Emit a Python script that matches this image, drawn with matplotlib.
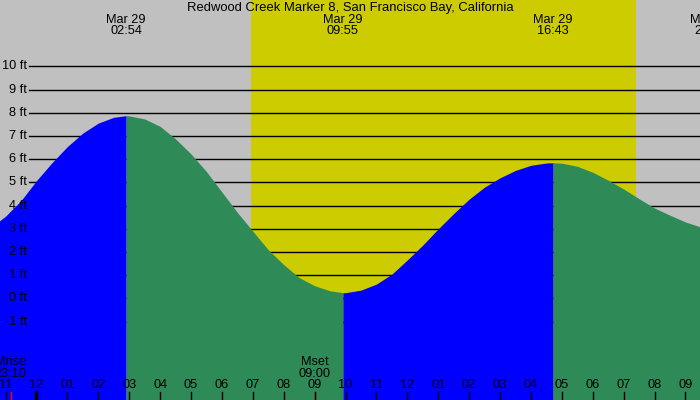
import matplotlib
matplotlib.use("Agg")
import matplotlib.pyplot as plt
import matplotlib.transforms as mtransforms

plt.rcParams['font.family'] = ['Liberation Sans', 'DejaVu Sans']

TITLE = "Redwood Creek Marker 8, San Francisco Bay, California"

# hours after midnight Mar 29 / predicted height in ft
tide_hours = [-1.25, -1.0, -0.5, 0.0, 0.5, 1.0, 1.5, 2.0, 2.5, 2.9,
              3.0, 3.5, 4.0, 4.5, 5.0, 5.5, 6.0, 6.5, 7.0, 7.5, 8.0, 8.5, 9.0, 9.5, 9.917,
              10.0, 10.5, 11.0, 11.5, 12.0, 12.5, 13.0, 13.5, 14.0, 14.5, 15.0, 15.5, 16.0, 16.5, 16.717,
              17.0, 17.5, 18.0, 18.5, 19.0, 19.5, 20.0, 20.5, 21.0, 21.5]
tide_ft = [3.29, 3.55, 4.22, 5.08, 5.85, 6.55, 7.13, 7.56, 7.81, 7.88,
           7.87, 7.74, 7.42, 6.88, 6.23, 5.47, 4.59, 3.71, 2.90, 2.10, 1.46, 0.90, 0.55, 0.33, 0.25,
           0.25, 0.36, 0.62, 1.05, 1.66, 2.30, 3.00, 3.66, 4.28, 4.80, 5.20, 5.52, 5.74, 5.84, 5.85,
           5.83, 5.70, 5.44, 5.10, 4.72, 4.30, 3.90, 3.59, 3.30, 3.08]

# high / low tide events
extreme_hours = [2.9, 9.917, 16.717, 21.8]
extreme_dates = ["Mar 29", "Mar 29", "Mar 29", "Mar 29"]
extreme_times = ["02:54", "09:55", "16:43", "21:48"]

sunrise, sunset = 6.94, 19.40

moon_hours = [-0.833, 9.0]
moon_names = ["Mrise", "Mset"]
moon_times = ["23:10", "09:00"]

hour_ticks = list(range(-1, 22))
hour_labels = ["11", "12", "01", "02", "03", "04", "05", "06", "07", "08", "09", "10",
               "11", "12", "01", "02", "03", "04", "05", "06", "07", "08", "09"]
ft_levels = list(range(-1, 11))

W, H = 700, 400
FS = 9.2
fig = plt.figure(figsize=(7, 4), dpi=100)
ax = fig.add_axes([0, 0, 1, 1])
ax.set_xlim(-1.181, 21.472)
ax.set_ylim(-4.375, 12.866)
ax.axis("off")
ax.add_patch(plt.Rectangle((0, 0), 1, 1, transform=ax.transAxes, color="#c0c0c0", zorder=-2))

def ypx(p):
    # pixel row from the top -> axes fraction
    return 1 - p / H

xdata_yaxes = mtransforms.blended_transform_factory(ax.transData, ax.transAxes)
xaxes_ydata = mtransforms.blended_transform_factory(ax.transAxes, ax.transData)

# daylight band
ax.axvspan(sunrise, sunset, color="#cccc00", zorder=-1, lw=0)

# height grid lines and labels
for lv in ft_levels:
    ax.axhline(lv, xmin=29 / W, xmax=1, color="black", lw=1.0, zorder=1)
    ax.text(27 / W, lv, f"{lv} ft", transform=xaxes_ydata, ha="right", va="center",
            fontsize=FS, zorder=5)

# tide curve: blue while rising, green while falling
bottom = ax.get_ylim()[0]
breaks = [tide_hours[0]] + extreme_hours[:3] + [tide_hours[-1]]
for a, b in zip(breaks[:-1], breaks[1:]):
    idx = [i for i, t in enumerate(tide_hours) if a <= t <= b]
    xs = [tide_hours[i] for i in idx]
    ys = [tide_ft[i] for i in idx]
    rising = ys[-1] > ys[0]
    ax.fill_between(xs, ys, bottom, color="#0000ff" if rising else "#2e8b57",
                    lw=0, zorder=2)

# title and tide event labels
ax.text(0.5, ypx(8), TITLE, transform=ax.transAxes, ha="center", va="center",
        fontsize=FS + 0.2, zorder=5)
for t, d, s in zip(extreme_hours, extreme_dates, extreme_times):
    ax.text(t, ypx(20), d, transform=xdata_yaxes, ha="center", va="center", fontsize=FS, zorder=5)
    ax.text(t, ypx(31.5), s, transform=xdata_yaxes, ha="center", va="center", fontsize=FS, zorder=5)

# moon rise / set
for t, n, s in zip(moon_hours, moon_names, moon_times):
    ax.text(t, ypx(362), n, transform=xdata_yaxes, ha="center", va="center", fontsize=FS, zorder=5)
    ax.text(t, ypx(374), s, transform=xdata_yaxes, ha="center", va="center", fontsize=FS, zorder=5)
    ax.axvline(t, ymin=0, ymax=8 / H, color="red", lw=1, zorder=6)

# hour ticks along the bottom
for t, lab in zip(hour_ticks, hour_labels):
    ax.axvline(t, ymin=0, ymax=8 / H, color="black", lw=2.4 if t == 0 else 1, zorder=6)
    ax.text(t, ypx(385.5), lab, transform=xdata_yaxes, ha="center", va="center",
            fontsize=FS, zorder=5)

fig.savefig("out.png", dpi=100)
